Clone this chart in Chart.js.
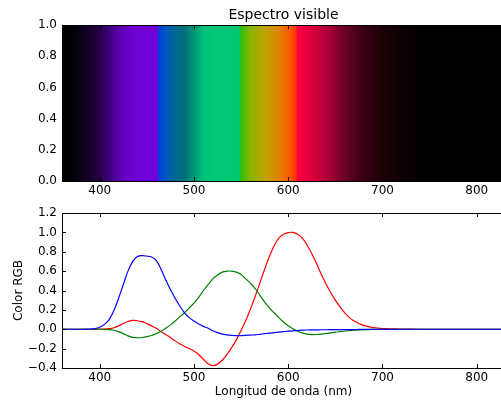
<!DOCTYPE html>
<html>
<head>
<meta charset="utf-8">
<script src="https://cdn.jsdelivr.net/npm/chart.js@4.4.0/dist/chart.umd.min.js"></script>
<style>
  html, body { margin: 0; padding: 0; background: #fff; overflow: hidden; }
  body { width: 501px; height: 403px; position: relative; }
  #spectrumChart { position: absolute; left: 0; top: 0; }
  #rgbChart { position: absolute; left: 0; top: 200px; }
</style>
</head>
<body>
<canvas id="spectrumChart" width="510" height="205"></canvas>
<canvas id="rgbChart" width="510" height="203"></canvas>
<script>
// Wavelengths (nm) where the RGB matching curves were read
const wavelengths = [360, 370, 380,
  390, 395, 400, 405, 410, 415, 420, 425, 430, 435,
  440, 445, 450, 455, 460, 465, 470, 475, 480, 485,
  490, 495, 500, 505, 510, 515, 520, 525, 530, 535,
  540, 545, 550, 555, 560, 565, 570, 575, 580, 585,
  590, 595, 600, 605, 610, 615, 620, 625, 630, 635,
  640, 645, 650, 655, 660, 665, 670, 675, 680, 685,
  690, 695, 700, 705, 710, 715, 720,
  740, 760, 780, 800, 830];

const redValues = [0, 0, 0,
  0, 0, 0.001, 0.002, 0.006, 0.015, 0.035, 0.06, 0.08, 0.092,
  0.088, 0.078, 0.058, 0.035, 0.01, -0.025, -0.055, -0.085, -0.12, -0.15,
  -0.178, -0.2, -0.225, -0.26, -0.31, -0.355, -0.375, -0.36, -0.32, -0.26,
  -0.19, -0.11, -0.01, 0.09, 0.21, 0.34, 0.48, 0.62, 0.75, 0.86,
  0.94, 0.98, 0.998, 1.0, 0.98, 0.94, 0.87, 0.78, 0.68, 0.57,
  0.47, 0.38, 0.3, 0.23, 0.17, 0.12, 0.085, 0.06, 0.04, 0.027,
  0.018, 0.012, 0.008, 0.006, 0.004, 0.003, 0.002,
  0, 0, 0, 0, 0];

const greenValues = [0, 0, 0,
  0, 0, 0, 0, -0.003, -0.01, -0.025, -0.045, -0.068, -0.083,
  -0.088, -0.085, -0.077, -0.065, -0.045, -0.02, 0.01, 0.045, 0.085, 0.13,
  0.17, 0.22, 0.27, 0.33, 0.4, 0.46, 0.52, 0.56, 0.59, 0.6,
  0.6, 0.59, 0.565, 0.52, 0.475, 0.42, 0.35, 0.28, 0.22, 0.17,
  0.12, 0.075, 0.035, 0.005, -0.02, -0.038, -0.05, -0.055, -0.054, -0.05,
  -0.044, -0.037, -0.03, -0.024, -0.018, -0.014, -0.01, -0.007, -0.005, -0.003,
  -0.002, -0.001, 0, 0, 0, 0, 0,
  0, 0, 0, 0, 0];

const blueValues = [0, 0, 0,
  0.002, 0.006, 0.02, 0.05, 0.1, 0.19, 0.32, 0.46, 0.6, 0.7,
  0.75, 0.76, 0.755, 0.745, 0.71, 0.62, 0.51, 0.41, 0.32, 0.24,
  0.17, 0.12, 0.085, 0.055, 0.03, 0.01, -0.015, -0.035, -0.05, -0.058,
  -0.063, -0.065, -0.065, -0.063, -0.06, -0.058, -0.052, -0.046, -0.04, -0.035,
  -0.03, -0.025, -0.02, -0.016, -0.013, -0.01, -0.008, -0.007, -0.006, -0.005,
  -0.005, -0.004, -0.004, -0.004, -0.003, -0.003, -0.003, -0.002, -0.002, -0.002,
  -0.002, -0.001, -0.001, -0.001, 0, 0, 0,
  0, 0, 0, 0, 0];

// Visible spectrum band: colour stops along the wavelength axis
const spectrumRange = [360, 830];
const spectrumHeight = [1, 1];
const spectrumStops = [360, 372, 380, 392, 400, 408, 416, 426, 440, 461,
  463, 470, 480, 490, 500, 510, 520, 548,
  550, 560, 577, 591, 602, 608,
  610, 623, 641, 658, 676, 697, 718, 745, 830];
const spectrumColors = ['#000000', '#040006', '#0e0018', '#1c0032', '#2a004c', '#3a0070', '#4e0098', '#6400c0', '#7000d6', '#7000d8',
  '#0040e0', '#0058c0', '#006890', '#007078', '#009878', '#00c078', '#00c878', '#00c870',
  '#30c000', '#88b400', '#c4a000', '#e08000', '#ff5500', '#ff3800',
  '#ff0040', '#e0003c', '#b00038', '#700028', '#420018', '#200008', '#0e0004', '#000000', '#000000'];

const yTicksTop = [0, 1];       // min, max
const yTicksBottom = [-0.4, 1.2];

const tickFont = { family: 'DejaVu Sans', size: 12 };

function fmtY(v) {
    return v.toFixed(1).replace('-', '\u2212');
}

// matplotlib-like frame with inward ticks on all four sides
const frameTicks = {
    id: 'frameTicks',
    afterDatasetsDraw(chart, args, opts) {
        const { ctx, chartArea: a, scales } = chart;
        ctx.save();
        ctx.strokeStyle = '#000';
        ctx.lineWidth = 1;
        ctx.beginPath();
        scales.x.ticks.forEach(t => {
            const px = Math.round(scales.x.getPixelForValue(t.value)) + 0.5;
            ctx.moveTo(px, a.bottom); ctx.lineTo(px, a.bottom - 4);
            ctx.moveTo(px, a.top); ctx.lineTo(px, a.top + 4);
        });
        scales.y.ticks.forEach(t => {
            const py = Math.round(scales.y.getPixelForValue(t.value)) + 0.5;
            ctx.moveTo(a.left, py); ctx.lineTo(a.left + 4, py);
            ctx.moveTo(a.right, py); ctx.lineTo(a.right - 4, py);
        });
        ctx.stroke();
        ctx.strokeRect(Math.round(a.left) + 0.5, Math.round(a.top) + 0.5,
            Math.round(a.width), Math.round(a.height));
        if (opts.title) {
            ctx.fillStyle = '#000';
            ctx.font = '14px "DejaVu Sans"';
            ctx.textAlign = 'center';
            ctx.textBaseline = 'middle';
            ctx.fillText(opts.title, (a.left + a.right) / 2, a.top - 10);
        }
        ctx.restore();
    }
};

function spectrumGradient(context) {
    const chart = context.chart;
    const { chartArea, scales } = chart;
    if (!chartArea) return null;
    const x0 = scales.x.getPixelForValue(spectrumRange[0]);
    const x1 = scales.x.getPixelForValue(spectrumRange[1]);
    const g = chart.ctx.createLinearGradient(x0, 0, x1, 0);
    spectrumStops.forEach((w, i) => {
        const off = (scales.x.getPixelForValue(w) - x0) / (x1 - x0);
        g.addColorStop(Math.min(1, Math.max(0, off)), spectrumColors[i]);
    });
    return g;
}

function xAxis(height, title) {
    return {
        type: 'linear',
        min: spectrumRange[0],
        max: spectrumRange[1],
        ticks: {
            stepSize: 100,
            includeBounds: false,
            padding: 3,
            color: '#000',
            font: tickFont,
            maxRotation: 0,
            callback: v => String(v)
        },
        grid: { display: false, drawTicks: false },
        border: { display: false },
        title: title ? {
            display: true,
            text: title,
            color: '#000',
            font: tickFont,
            padding: { top: 0, bottom: 4 }
        } : { display: false },
        afterFit(s) { s.height = height; }
    };
}

function yAxis(range, title) {
    return {
        type: 'linear',
        min: range[0],
        max: range[1],
        ticks: {
            stepSize: 0.2,
            padding: 5,
            color: '#000',
            font: tickFont,
            callback: v => fmtY(v)
        },
        grid: { display: false, drawTicks: false },
        border: { display: false },
        title: title ? {
            display: true,
            text: title,
            color: '#000',
            font: tickFont,
            padding: { top: 12, bottom: 0 }
        } : { display: false },
        afterFit(s) { s.width = 62; }
    };
}

// Top: visible spectrum band
const spectrumCtx = document.getElementById('spectrumChart').getContext('2d');
const spectrumChart = new Chart(spectrumCtx, {
    type: 'line',
    data: {
        datasets: [{
            label: 'Espectro',
            data: spectrumRange.map((w, i) => ({ x: w, y: spectrumHeight[i] })),
            backgroundColor: spectrumGradient,
            borderWidth: 0,
            pointRadius: 0,
            fill: 'origin'
        }]
    },
    options: {
        responsive: false,
        animation: false,
        layout: { padding: { top: 25, left: 0, right: 5, bottom: 0 } },
        scales: {
            x: xAxis(24),
            y: yAxis(yTicksTop)
        },
        plugins: {
            legend: { display: false },
            tooltip: { enabled: false },
            frameTicks: { title: 'Espectro visible' }
        }
    },
    plugins: [frameTicks]
});

// Bottom: RGB colour matching curves
const rgbCtx = document.getElementById('rgbChart').getContext('2d');
const series = (vals) => wavelengths.map((w, i) => ({ x: w, y: vals[i] }));
const rgbChart = new Chart(rgbCtx, {
    type: 'line',
    data: {
        datasets: [
            { label: 'R', data: series(redValues), borderColor: '#ff0000', order: 3 },
            { label: 'G', data: series(greenValues), borderColor: '#008000', order: 2 },
            { label: 'B', data: series(blueValues), borderColor: '#0000ff', order: 1 }
        ].map(d => Object.assign(d, {
            borderWidth: 1.2,
            pointRadius: 0,
            fill: false,
            tension: 0.35
        }))
    },
    options: {
        responsive: false,
        animation: false,
        layout: { padding: { top: 13, left: 0, right: 5, bottom: 0 } },
        scales: {
            x: xAxis(35, 'Longitud de onda (nm)'),
            y: yAxis(yTicksBottom, 'Color RGB')
        },
        plugins: {
            legend: { display: false },
            tooltip: { enabled: false },
            frameTicks: {}
        }
    },
    plugins: [frameTicks]
});
</script>
</body>
</html>
